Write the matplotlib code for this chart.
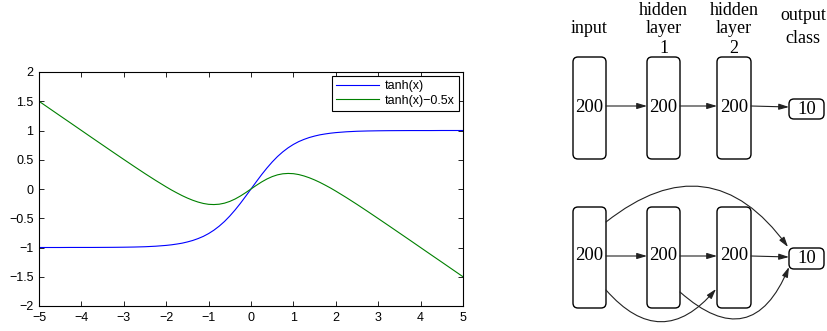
import matplotlib.pyplot as plt
from matplotlib.patches import FancyBboxPatch, FancyArrowPatch


# values
x_vals = [-5, -4.75, -4.5, -4.25, -4, -3.75, -3.5, -3.25, -3, -2.75, -2.5, -2.25,
          -2, -1.875, -1.75, -1.625, -1.5, -1.375, -1.25, -1.125, -1, -0.875, -0.75, -0.625,
          -0.5, -0.375, -0.25, -0.125, 0, 0.125, 0.25, 0.375, 0.5, 0.625, 0.75, 0.875,
          1, 1.125, 1.25, 1.375, 1.5, 1.625, 1.75, 1.875, 2,
          2.25, 2.5, 2.75, 3, 3.25, 3.5, 3.75, 4, 4.25, 4.5, 4.75, 5]
tanh_vals = [-1.000, -1.000, -1.000, -0.999, -0.999, -0.999, -0.998, -0.997, -0.995, -0.992, -0.987, -0.978,
             -0.964, -0.954, -0.941, -0.926, -0.905, -0.880, -0.848, -0.810, -0.762, -0.704, -0.635, -0.555,
             -0.462, -0.358, -0.245, -0.124, 0.000, 0.124, 0.245, 0.358, 0.462, 0.555, 0.635, 0.704,
             0.762, 0.810, 0.848, 0.880, 0.905, 0.926, 0.941, 0.954, 0.964,
             0.978, 0.987, 0.992, 0.995, 0.997, 0.998, 0.999, 0.999, 0.999, 1.000, 1.000, 1.000]
shifted_vals = [1.500, 1.375, 1.250, 1.126, 1.001, 0.876, 0.752, 0.628, 0.505, 0.383, 0.263, 0.147,
                0.036, -0.017, -0.066, -0.113, -0.155, -0.192, -0.223, -0.247, -0.262, -0.266, -0.260, -0.242,
                -0.212, -0.171, -0.120, -0.062, 0.000, 0.062, 0.120, 0.171, 0.212, 0.242, 0.260, 0.266,
                0.262, 0.247, 0.223, 0.192, 0.155, 0.113, 0.066, 0.017, -0.036,
                -0.147, -0.263, -0.383, -0.505, -0.628, -0.752, -0.876, -1.001, -1.126, -1.250, -1.375, -1.500]
series_names = ['tanh(x)', 'tanh(x)\u22120.5x']
x_ticks = [-5, -4, -3, -2, -1, 0, 1, 2, 3, 4, 5]
x_tick_labels = ['\u22125', '\u22124', '\u22123', '\u22122', '\u22121', '0', '1', '2', '3', '4', '5']
y_ticks = [-2, -1.5, -1, -0.5, 0, 0.5, 1, 1.5, 2]
y_tick_labels = ['\u22122', '\u22121.5', '\u22121', '\u22120.5', '0', '0.5', '1', '1.5', '2']

# network diagram texts
layer_titles = [['input'], ['hidden', 'layer', '1'], ['hidden', 'layer', '2'], ['output', 'class']]
layer_sizes = ['200', '200', '200', '10']

fig = plt.figure(figsize=(8.28, 3.31), dpi=100)

# Left plot
ax = fig.add_axes([39 / 828, 25 / 331, 424 / 828, 234 / 331])
ax.plot(x_vals, tanh_vals, color='#0000ff', lw=0.8, label=series_names[0])
ax.plot(x_vals, shifted_vals, color='#008000', lw=0.8, label=series_names[1])
ax.set_xlim(-5, 5)
ax.set_ylim(-2, 2)
ax.set_xticks(x_ticks)
ax.set_xticklabels(x_tick_labels, family='Liberation Sans')
ax.set_yticks(y_ticks)
ax.set_yticklabels(y_tick_labels, family='Liberation Sans')
ax.tick_params(direction='in', top=True, right=True, length=3.5, width=0.6,
               labelsize=9, pad=4)
for s in ax.spines.values():
    s.set_linewidth(0.8)
leg = ax.legend(loc='upper right', fancybox=False, edgecolor='black', framealpha=1,
                prop={'family': 'Liberation Sans', 'size': 9}, handlelength=3.4,
                borderaxespad=0.3, borderpad=0.35, labelspacing=0.2, handletextpad=0.5)
leg.get_frame().set_linewidth(0.8)

# Right diagram, axes in pixel units
ax2 = fig.add_axes([560 / 828, 0, 268 / 828, 1])
ax2.set_xlim(560, 828)
ax2.set_ylim(331, 0)
ax2.axis('off')

box_x = [573, 647, 717, 789]
box_w = [33, 33, 34, 35]
title_x = [589.5, 663.5, 734, 803]
title_base = [[33], [15, 33, 53], [15, 33, 53], [20, 43]]
serif = 'Liberation Serif'
fs = 13

for i, lines in enumerate(layer_titles):
    for line, yb in zip(lines, title_base[i]):
        ax2.text(title_x[i], yb, line, ha='center', va='baseline',
                 family=serif, fontsize=fs)


def draw_boxes(top, height, out_top, out_h, text_y):
    for i in range(3):
        ax2.add_patch(FancyBboxPatch((box_x[i], top), box_w[i], height,
                                     boxstyle='round,pad=0,rounding_size=5',
                                     fc='white', ec='black', lw=1.0))
        ax2.text(box_x[i] + box_w[i] / 2, text_y, layer_sizes[i], ha='center', va='center',
                 family=serif, fontsize=13.5)
    ax2.add_patch(FancyBboxPatch((box_x[3], out_top), box_w[3], out_h,
                                 boxstyle='round,pad=0,rounding_size=5',
                                 fc='white', ec='black', lw=1.0))
    ax2.text(box_x[3] + box_w[3] / 2, out_top + out_h / 2, layer_sizes[3], ha='center',
             va='center', family=serif, fontsize=13.5)


def arrow(p0, p1, rad=0.0):
    ax2.add_patch(FancyArrowPatch(p0, p1, connectionstyle='arc3,rad=%s' % rad,
                                  arrowstyle='-|>,head_length=6,head_width=1.8',
                                  shrinkA=0, shrinkB=0, lw=0.8, color='#222222',
                                  mutation_scale=1))


# top network
draw_boxes(57, 102, 99, 20, 107)
arrow((606, 106), (647, 106))
arrow((680, 106), (717, 106))
arrow((751, 106), (789, 107))

# bottom network with skip connections
draw_boxes(207, 101, 248, 21, 256)
arrow((606, 256), (647, 256))
arrow((680, 256), (717, 256))
arrow((751, 256), (789, 257))
arrow((606, 222), (788, 247), rad=-0.52)
arrow((606, 290), (716, 289), rad=0.58)
arrow((680, 292), (789, 267), rad=0.7)

fig.savefig('out.png', dpi=100)
